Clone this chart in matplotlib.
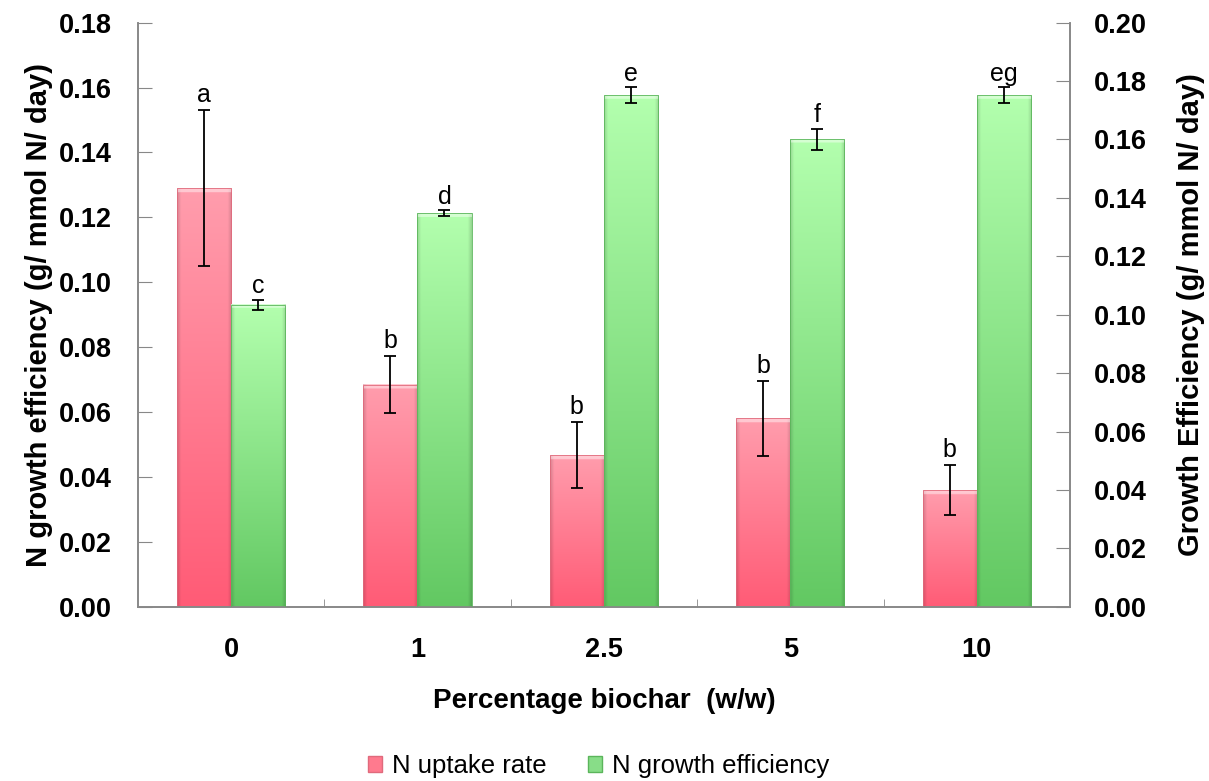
import numpy as np
import matplotlib
matplotlib.use('Agg')
import matplotlib.pyplot as plt
from matplotlib.colors import to_rgb
from matplotlib.patches import Patch

plt.rcParams['font.family'] = ['Liberation Sans', 'DejaVu Sans']

categories = ['0', '1', '2.5', '5', '10']
uptake = [0.129, 0.0685, 0.0467, 0.0581, 0.036]
uptake_err = [0.024, 0.0088, 0.0102, 0.0115, 0.0077]
uptake_letters = ['a', 'b', 'b', 'b', 'b']
efficiency = [0.1034, 0.1348, 0.1751, 0.160, 0.1751]
efficiency_err = [0.0017, 0.001, 0.0027, 0.0037, 0.0027]
efficiency_letters = ['c', 'd', 'e', 'f', 'eg']


def shade_bars(ax, bars, top, bottom, bevel):
    """Replace flat bar fill with a vertical gradient, darker sides, light top rim."""
    t = np.array(to_rgb(top))
    b = np.array(to_rgb(bottom))
    n = 400
    v = np.linspace(0, 1, n)[:, None, None]
    img = b + (t - b) * v
    u = np.linspace(0, 1, 60)
    side = 1 - 0.15 * np.clip(1 - np.minimum(u, 1 - u) / 0.07, 0, 1)
    img = np.broadcast_to(img * side[None, :, None], (n, 60, 3)).copy()
    for bar in bars:
        x0, y0 = bar.get_xy()
        w, h = bar.get_width(), bar.get_height()
        band = img.copy()
        nt = max(2, int(round(n * bevel / h)))
        band[-nt:] = np.clip(band[-nt:] * 0.55 + 0.45, 0, 1)
        ax.imshow(band, extent=(x0, x0 + w, y0, y0 + h), origin='lower',
                  aspect='auto', zorder=2, interpolation='bilinear')
        bar.set_facecolor('none')
        bar.set_zorder(3)


fig = plt.figure(figsize=(12.09, 7.81), dpi=100)
ax = fig.add_axes([0.114, 0.223, 0.771, 0.748])
ax2 = ax.twinx()

x = np.arange(len(categories))
w = 0.29
red = ax.bar(x - w / 2, uptake, w, color='#ff7a8e', edgecolor='#e06a7c', linewidth=0.6)
green = ax2.bar(x + w / 2, efficiency, w, color='#88dd88', edgecolor='#5bb55b', linewidth=0.6)
shade_bars(ax, red, '#ff9dad', '#ff5b76', 0.0013)
shade_bars(ax2, green, '#b3ffae', '#62c862', 0.0014)

ax.errorbar(x - w / 2, uptake, yerr=uptake_err, fmt='none', ecolor='black',
            elinewidth=1.3, capsize=4, capthick=1.3, zorder=5)
ax2.errorbar(x + w / 2, efficiency, yerr=efficiency_err, fmt='none', ecolor='black',
             elinewidth=1.3, capsize=4, capthick=1.3, zorder=5)

for xi, v, e, s in zip(x - w / 2, uptake, uptake_err, uptake_letters):
    ax.annotate(s, (xi, v + e), xytext=(0, 2), textcoords='offset points',
                ha='center', va='bottom', fontsize=18)
for xi, v, e, s in zip(x + w / 2, efficiency, efficiency_err, efficiency_letters):
    ax2.annotate(s, (xi, v + e), xytext=(0, 1), textcoords='offset points',
                 ha='center', va='bottom', fontsize=18)

ax.set_xlim(-0.5, len(categories) - 0.5)
ax.set_ylim(0, 0.18)
ax2.set_ylim(0, 0.20)
ax.set_yticks(np.arange(0, 0.181, 0.02))
ax2.set_yticks(np.arange(0, 0.201, 0.02))
ax.set_yticklabels(['%.2f' % t for t in np.arange(0, 0.181, 0.02)])
ax2.set_yticklabels(['%.2f' % t for t in np.arange(0, 0.201, 0.02)])

ax.set_xticks(x)
ax.set_xticklabels(categories)
ax.set_xticks(np.arange(0.5, len(categories) - 1, 1), minor=True)
ax.tick_params(axis='x', which='major', length=0, pad=22, labelsize=19.5)
ax.tick_params(axis='x', which='minor', direction='in', length=6, color='#888888')
ax.tick_params(axis='y', direction='in', length=10, color='#888888', labelsize=19.5, pad=19)
ax2.tick_params(axis='y', direction='in', length=10, color='#888888', labelsize=19.5, pad=17)
for lab in ax.get_xticklabels() + ax.get_yticklabels() + ax2.get_yticklabels():
    lab.set_fontweight('bold')

for a in (ax, ax2):
    a.spines['top'].set_visible(False)
    for s in ('left', 'right', 'bottom'):
        a.spines[s].set_color('#888888')
        a.spines[s].set_linewidth(1.2)

ax.set_xlabel('Percentage biochar  (w/w)', fontsize=20, fontweight='bold', labelpad=18)
ax.set_ylabel('N growth efficiency (g/ mmol N/ day)', fontsize=21, fontweight='bold', labelpad=4)
ax2.set_ylabel('Growth Efficiency (g/ mmol N/ day)', fontsize=21, fontweight='bold', labelpad=22)

handles = [Patch(facecolor='#ff7a8e', edgecolor='#e06a7c', label='N uptake rate'),
           Patch(facecolor='#88dd88', edgecolor='#5bb55b', label='N growth efficiency')]
fig.legend(handles=handles, loc='center', bbox_to_anchor=(0.495, 0.019), ncol=2,
           frameon=False, fontsize=18.5, handlelength=0.55, handleheight=0.55,
           handletextpad=0.4, columnspacing=1.6)

fig.savefig('out.png', dpi=100)
